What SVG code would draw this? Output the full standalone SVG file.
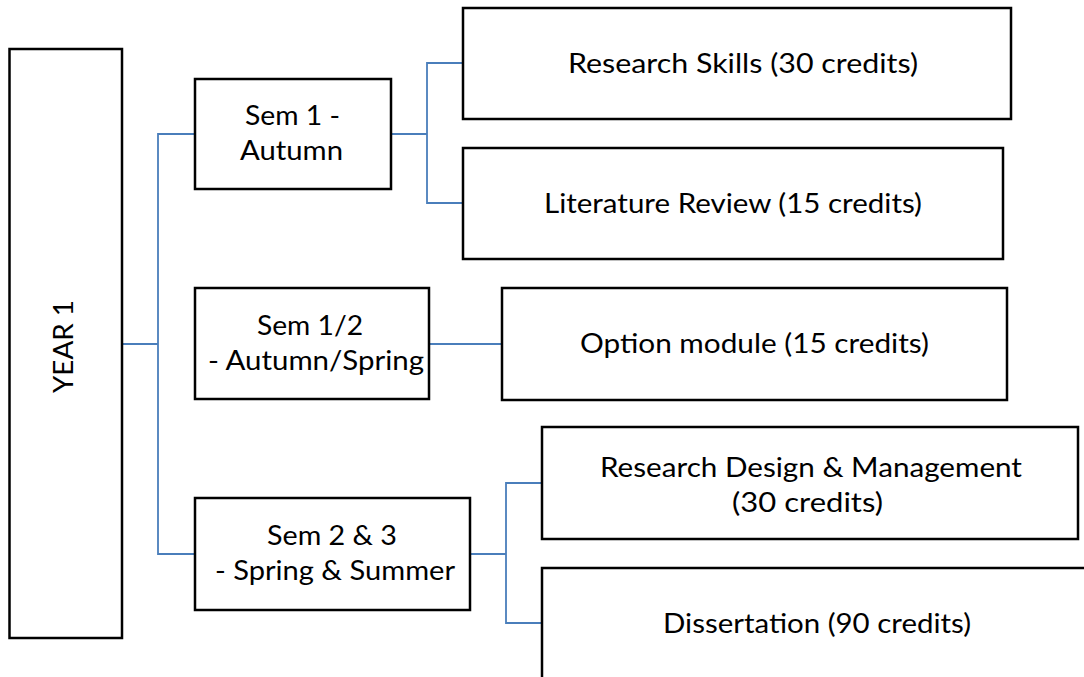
<svg xmlns="http://www.w3.org/2000/svg" width="1084" height="677" viewBox="0 0 1084 677">
<style>
.box{fill:#fff;stroke:#000;stroke-width:2.5}
.t{font-family:Lato,"Open Sans","Liberation Sans",sans-serif;font-size:26px;fill:#000}
.c{fill:none;stroke:#4A7EBB;stroke-width:1.8}
</style>
<rect width="1084" height="677" fill="#fff"/>
<g id="connectors">
<polyline class="c" points="122,344 158,344"/>
<polyline class="c" points="195,134 158,134 158,554 195,554"/>
<polyline class="c" points="391,134 427,134"/>
<polyline class="c" points="463,63 427,63 427,203 463,203"/>
<polyline class="c" points="429,344 502,344"/>
<polyline class="c" points="470,554 506,554"/>
<polyline class="c" points="542,483 506,483 506,623 542,623"/>
</g>
<g id="year1">
<rect class="box" x="9.5" y="49" width="112.5" height="589"/>
<text class="t" transform="translate(73,393) rotate(-90)" x="0" y="0" textLength="93" lengthAdjust="spacingAndGlyphs">YEAR 1</text>
</g>
<g id="sem1">
<rect class="box" x="195" y="79" width="196" height="110"/>
<text class="t" x="245" y="125" textLength="95" lengthAdjust="spacingAndGlyphs">Sem 1 -</text>
<text class="t" x="240" y="160" textLength="103" lengthAdjust="spacingAndGlyphs">Autumn</text>
</g>
<g id="sem12">
<rect class="box" x="195" y="288" width="234" height="111"/>
<text class="t" x="257" y="335" textLength="106" lengthAdjust="spacingAndGlyphs">Sem 1/2</text>
<text class="t" x="208" y="370" textLength="216" lengthAdjust="spacingAndGlyphs">- Autumn/Spring</text>
</g>
<g id="sem23">
<rect class="box" x="195" y="498" width="275" height="112"/>
<text class="t" x="267" y="545" textLength="130" lengthAdjust="spacingAndGlyphs">Sem 2 &amp; 3</text>
<text class="t" x="215" y="580" textLength="240" lengthAdjust="spacingAndGlyphs">- Spring &amp; Summer</text>
</g>
<g id="research-skills">
<rect class="box" x="463" y="8" width="548" height="111"/>
<text class="t" x="568" y="73" textLength="350" lengthAdjust="spacingAndGlyphs">Research Skills (30 credits)</text>
</g>
<g id="literature-review">
<rect class="box" x="463" y="148" width="540" height="111"/>
<text class="t" x="544" y="213" textLength="378" lengthAdjust="spacingAndGlyphs">Literature Review (15 credits)</text>
</g>
<g id="option-module">
<rect class="box" x="502" y="288" width="505" height="112"/>
<text class="t" x="580" y="353" textLength="349" lengthAdjust="spacingAndGlyphs">Option module (15 credits)</text>
</g>
<g id="research-design">
<rect class="box" x="542" y="427" width="536" height="112"/>
<text class="t" x="600" y="477" textLength="422" lengthAdjust="spacingAndGlyphs">Research Design &amp; Management</text>
<text class="t" x="732" y="512" textLength="151" lengthAdjust="spacingAndGlyphs">(30 credits)</text>
</g>
<g id="dissertation">
<rect class="box" x="542" y="568" width="600" height="200"/>
<text class="t" x="663" y="633" textLength="308" lengthAdjust="spacingAndGlyphs">Dissertation (90 credits)</text>
</g>
</svg>
